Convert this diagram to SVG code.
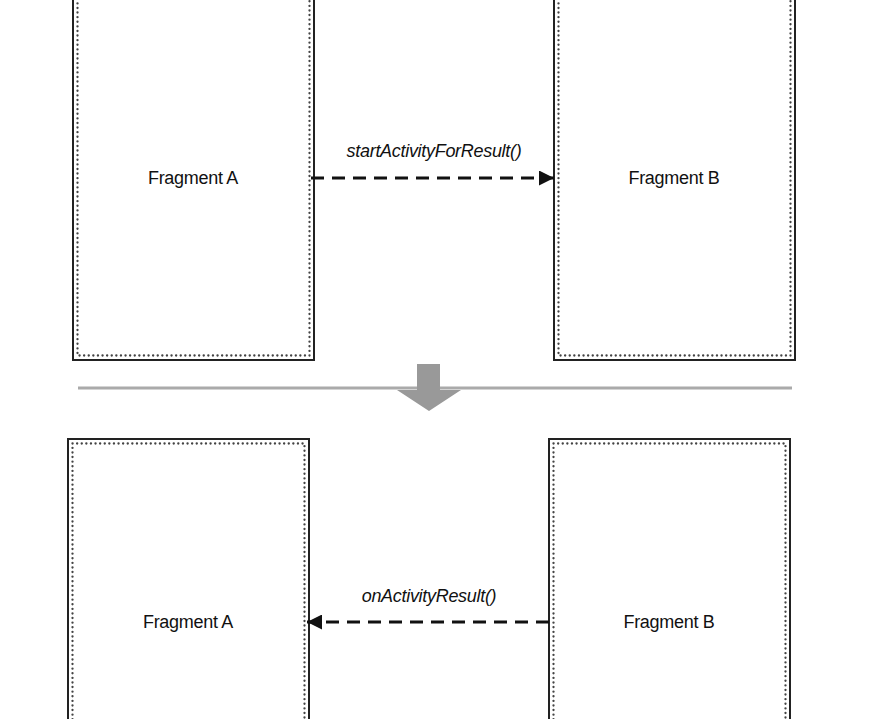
<svg xmlns="http://www.w3.org/2000/svg" width="882" height="719" viewBox="0 0 882 719">
<defs>
<style>
.outer{fill:#fff;stroke:#222;stroke-width:2}
.inner{fill:none;stroke:#444;stroke-width:2.3;stroke-linecap:round;stroke-dasharray:0.1 4.5}
.lbl{font-family:"Liberation Sans",Arial,sans-serif;font-size:18px;fill:#111;text-anchor:middle;dominant-baseline:central;letter-spacing:-0.3px}
.call{font-family:"Liberation Sans",Arial,sans-serif;font-size:18px;font-style:italic;fill:#111;text-anchor:middle;dominant-baseline:central;letter-spacing:-0.3px}
.dash{fill:none;stroke:#111;stroke-width:3;stroke-dasharray:13 8}
</style>
<marker id="ah" viewBox="0 0 10 10" refX="10" refY="5" markerWidth="5.5" markerHeight="5" markerUnits="strokeWidth" orient="auto">
<path d="M0,0 L10,5 L0,10 z" fill="#111"/>
</marker>
</defs>
<rect width="882" height="719" fill="#fff"/>
<g id="top-fragment-a">
<rect class="outer" x="73" y="-10" width="241" height="370"/>
<rect class="inner" x="77.5" y="-6" width="232" height="361.5"/>
<text class="lbl" x="193" y="178">Fragment A</text>
</g>
<g id="top-fragment-b">
<rect class="outer" x="554" y="-10" width="241" height="370"/>
<rect class="inner" x="558.5" y="-6" width="232" height="361.5"/>
<text class="lbl" x="674" y="178">Fragment B</text>
</g>
<g id="bottom-fragment-a">
<rect class="outer" x="68" y="439" width="241" height="300"/>
<rect class="inner" x="72.5" y="443.5" width="232" height="290"/>
<text class="lbl" x="188" y="622">Fragment A</text>
</g>
<g id="bottom-fragment-b">
<rect class="outer" x="549" y="439" width="241" height="300"/>
<rect class="inner" x="553.5" y="443.5" width="232" height="290"/>
<text class="lbl" x="669" y="622">Fragment B</text>
</g>
<g id="divider">
<line x1="78" y1="388" x2="792" y2="388" stroke="#aaa" stroke-width="3"/>
<path d="M417,364 H440 V390 H461 L429,411 L397,390 H417 Z" fill="#999"/>
</g>
<g id="connectors">
<line class="dash" x1="311" y1="178" x2="554" y2="178" marker-end="url(#ah)"/>
<text class="call" x="434" y="151">startActivityForResult()</text>
<line class="dash" x1="549" y1="622" x2="307" y2="622" marker-end="url(#ah)"/>
<text class="call" x="429" y="596">onActivityResult()</text>
</g>
</svg>
